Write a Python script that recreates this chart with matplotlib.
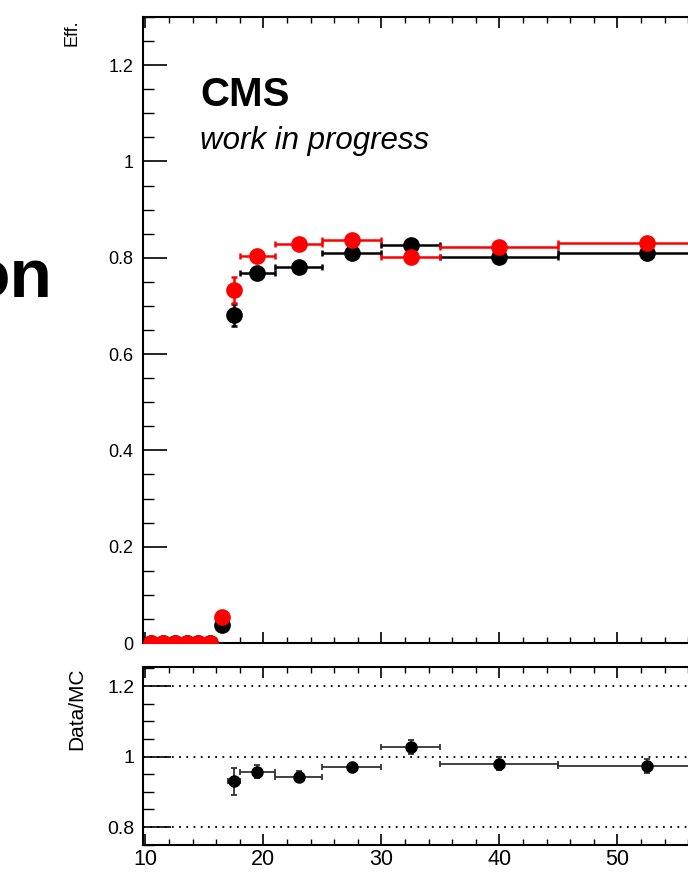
import matplotlib.pyplot as plt
import numpy as np
from matplotlib.ticker import MultipleLocator

plt.rcParams['font.family'] = ['Liberation Sans', 'DejaVu Sans']

# efficiency vs pT, bin edges in GeV
bin_edges = [10, 11, 12, 13, 14, 15, 16, 17, 18, 21, 25, 30, 35, 45, 60]
eff_data = [0, 0, 0, 0, 0, 0, 0.037, 0.681, 0.769, 0.781, 0.810, 0.827, 0.802, 0.810]
eff_data_err = [0, 0, 0, 0, 0, 0, 0.008, 0.022, 0.008, 0.007, 0.006, 0.008, 0.007, 0.012]
eff_mc = [0, 0, 0, 0, 0, 0, 0.054, 0.733, 0.804, 0.829, 0.837, 0.802, 0.823, 0.831]
eff_mc_err = [0, 0, 0, 0, 0, 0, 0.010, 0.027, 0.007, 0.005, 0.005, 0.005, 0.005, 0.006]

# ratio only shown where inside the range
ratio_edges = [17, 18, 21, 25, 30, 35, 45, 60]
ratio = [0.930, 0.957, 0.943, 0.969, 1.028, 0.980, 0.972]
ratio_err = [0.038, 0.018, 0.015, 0.013, 0.020, 0.018, 0.020]

edges = np.array(bin_edges, dtype=float)
xc = 0.5 * (edges[1:] + edges[:-1])
xe = 0.5 * (edges[1:] - edges[:-1])
redges = np.array(ratio_edges, dtype=float)
rxc = 0.5 * (redges[1:] + redges[:-1])
rxe = 0.5 * (redges[1:] - redges[:-1])

W, H = 688, 873
fig = plt.figure(figsize=(W / 100, H / 100), dpi=100)

xmin, xmax = 9.8, 60.0
ppu = 11.8  # pixels per x unit
ax_left = 143 / W
ax_width = (xmax - xmin) * ppu / W

ax1 = fig.add_axes([ax_left, 1 - 643 / H, ax_width, (643 - 17) / H])
ax2 = fig.add_axes([ax_left, 1 - 845 / H, ax_width, (845 - 667) / H])

ax1.errorbar(xc, eff_data, xerr=xe, yerr=eff_data_err, fmt='o', color='black',
             ms=11, elinewidth=1.8, capsize=2.5, capthick=1.8, zorder=3)
ax1.errorbar(xc, eff_mc, xerr=xe, yerr=eff_mc_err, fmt='o', color='red',
             ms=11, elinewidth=1.8, capsize=2.5, capthick=1.8, zorder=4)

ax1.set_xlim(xmin, xmax)
ax1.set_ylim(0, 1.3)
ax1.yaxis.set_minor_locator(MultipleLocator(0.05))
ax1.xaxis.set_major_locator(MultipleLocator(10))
ax1.xaxis.set_minor_locator(MultipleLocator(2))
ax1.set_yticks([0, 0.2, 0.4, 0.6, 0.8, 1.0, 1.2])
ax1.set_yticklabels(['0', '0.2', '0.4', '0.6', '0.8', '1', '1.2'])
ax1.tick_params(axis='both', which='both', direction='in', top=True, right=True)
ax1.tick_params(axis='y', which='major', length=17, width=1.2, labelsize=13, pad=7)
ax1.tick_params(axis='y', which='minor', length=8, width=1.0)
ax1.tick_params(axis='x', which='major', length=8, width=1.2, labelbottom=False)
ax1.tick_params(axis='x', which='minor', length=4, width=1.0)
for s in ax1.spines.values():
    s.set_linewidth(1.5)
fig.text(72 / W, 1 - 19 / H, 'Eff.', rotation=90, ha='center', va='top', fontsize=13)

ax1.text(200 / W, 1 - 106 / H, 'CMS', transform=fig.transFigure, fontsize=29,
         fontweight='bold', ha='left', va='baseline')
ax1.text(200 / W, 1 - 149 / H, 'work in progress', transform=fig.transFigure,
         fontsize=22.5, style='italic', ha='left', va='baseline')

# leftover piece of the canvas title
fig.text(52 / W, 1 - 297 / H, 'on', fontsize=50, fontweight='bold', ha='right', va='baseline')

# ratio panel
for yv in [0.8, 1.0, 1.2]:
    ax2.axhline(yv, color='black', ls=(0, (1, 3)), lw=1.3, zorder=1)
ax2.errorbar(rxc, ratio, xerr=rxe, yerr=ratio_err, fmt='o', color='black', ecolor='#333333',
             ms=8, elinewidth=1.3, capsize=2, capthick=1.3, zorder=3)
ax2.set_xlim(xmin, xmax)
ax2.set_ylim(0.749, 1.254)
ax2.set_yticks([0.8, 1.0, 1.2])
ax2.set_yticklabels(['0.8', '1', '1.2'])
ax2.yaxis.set_minor_locator(MultipleLocator(0.05))
ax2.xaxis.set_major_locator(MultipleLocator(10))
ax2.xaxis.set_minor_locator(MultipleLocator(2))
ax2.tick_params(axis='both', which='both', direction='in', top=True, right=True)
ax2.tick_params(axis='y', which='major', length=20, width=1.2, labelsize=14, pad=6)
ax2.tick_params(axis='y', which='minor', length=8, width=1.0)
ax2.tick_params(axis='x', which='major', length=8, width=1.2, labelsize=15.5, pad=3)
ax2.tick_params(axis='x', which='minor', length=4, width=1.0)
for s in ax2.spines.values():
    s.set_linewidth(1.5)
fig.text(77 / W, 1 - 668 / H, 'Data/MC', rotation=90, ha='center', va='top', fontsize=15)

fig.savefig('out.png', dpi=100)
